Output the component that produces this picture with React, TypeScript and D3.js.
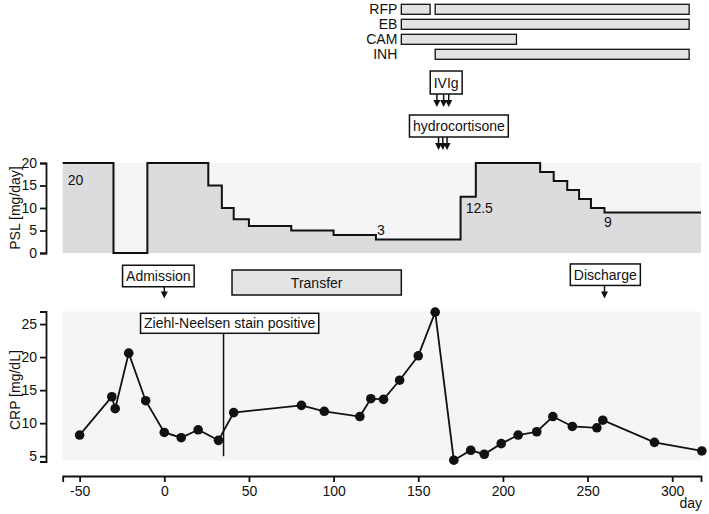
import React, { useEffect, useRef } from "react";
import * as d3 from "d3";

// ---- data ----
const drugs = ["RFP", "EB", "CAM", "INH"];
const drugSpans = [
  { drug: "RFP", start: 140, end: 157 },
  { drug: "RFP", start: 160, end: 310 },
  { drug: "EB", start: 140, end: 310 },
  { drug: "CAM", start: 140, end: 208 },
  { drug: "INH", start: 160, end: 310 },
];
const ivigDays = [161, 165, 168];
const hydroDays = [162, 164.5, 167];

const pslDays = [-60, -30, -10, 26, 34, 41, 50, 75, 100, 125, 175, 184, 222, 230, 238, 245, 252, 260, 317];
const pslDose = [20, 0, 20, 15, 10, 7.5, 6, 5, 4, 3, 12.5, 20, 18, 16, 14, 12, 10, 9, 9];
const pslLabels = [
  { day: -57, value: 16.2, text: "20", anchor: "start" },
  { day: 128, value: 5.1, text: "3", anchor: "middle" },
  { day: 178, value: 10, text: "12.5", anchor: "start" },
  { day: 262, value: 6.9, text: "9", anchor: "middle" },
];

const crpDays = [-50, -31, -29, -21, -11, 0, 10, 20, 32, 41, 81, 94.5, 115.5, 122, 129.5, 139, 150, 160, 171, 181, 189, 199, 209, 220, 229.5, 241, 255.5, 259, 289.5, 317.5];
const crpValues = [8.2, 14.0, 12.2, 20.6, 13.4, 8.6, 7.8, 9.0, 7.4, 11.6, 12.7, 11.8, 11.0, 13.7, 13.6, 16.5, 20.2, 26.8, 4.4, 5.9, 5.3, 6.9, 8.2, 8.7, 11.0, 9.5, 9.3, 10.45, 7.1, 5.8];

const dayTicks = [-50, 0, 50, 100, 150, 200, 250, 300];
const pslTicks = [0, 5, 10, 15, 20];
const crpTicks = [5, 10, 15, 20, 25];

const events = [
  { text: "Admission", boxDay: -3.5, arrowDay: 0 },
  { text: "Discharge", boxDay: 260.5, arrowDay: 260 },
];
const transfer = { text: "Transfer", start: 40, end: 140 };
const zn = { text: "Ziehl-Neelsen stain positive", boxDay: 38.6, lineDay: 35 };

const FONT = "'Liberation Sans', Arial, sans-serif";

export default function App() {
  const ref = useRef<SVGSVGElement>(null);

  useEffect(() => {
    const svg = d3.select(ref.current);
    svg.selectAll("*").remove();
    svg.attr("font-family", FONT).attr("font-size", 14);

    const x = d3.scaleLinear().domain([-60, 317]).range([62.7, 701]);
    const yPsl = d3.scaleLinear().domain([0, 20]).range([253, 163]);
    const yCrp = d3.scaleLinear().domain([4.2, 26.9]).range([461.5, 311.5]);
    const yDrug = d3
      .scaleBand()
      .domain(drugs)
      .range([1.8, 61.8])
      .paddingInner(1 / 3)
      .paddingOuter(1 / 6);

    // boxed label helper, centred at (cx, cy)
    const boxLabel = (cx: number, cy: number, text: string, h = 22) => {
      const g = svg.append("g");
      const rect = g.append("rect");
      const t = g
        .append("text")
        .attr("x", cx)
        .attr("y", cy)
        .attr("text-anchor", "middle")
        .attr("dominant-baseline", "central")
        .attr("fill", "#111")
        .text(text);
      const w = (t.node() as SVGTextElement).getComputedTextLength() + 7;
      rect
        .attr("x", cx - w / 2)
        .attr("y", cy - h / 2)
        .attr("width", w)
        .attr("height", h)
        .attr("fill", "white")
        .attr("stroke", "#111")
        .attr("stroke-width", 1.5);
      return cy + h / 2;
    };

    const arrow = (ax: number, y0: number, y1: number) => {
      svg
        .append("line")
        .attr("x1", ax)
        .attr("x2", ax)
        .attr("y1", y0)
        .attr("y2", y1 - 5)
        .attr("stroke", "#111")
        .attr("stroke-width", 1.5);
      svg
        .append("path")
        .attr("d", `M${ax - 3.5},${y1 - 7}L${ax + 3.5},${y1 - 7}L${ax},${y1}Z`)
        .attr("fill", "#111");
    };

    // ---- drug bars ----
    svg
      .append("g")
      .selectAll("rect")
      .data(drugSpans)
      .join("rect")
      .attr("x", (d) => x(d.start))
      .attr("y", (d) => yDrug(d.drug)!)
      .attr("width", (d) => x(d.end) - x(d.start))
      .attr("height", yDrug.bandwidth())
      .attr("fill", "#e3e3e3")
      .attr("stroke", "#111")
      .attr("stroke-width", 1.3);
    svg
      .append("g")
      .selectAll("text")
      .data(drugs)
      .join("text")
      .attr("x", x(140) - 4)
      .attr("y", (d) => yDrug(d)! + yDrug.bandwidth() / 2)
      .attr("text-anchor", "end")
      .attr("dominant-baseline", "central")
      .attr("fill", "#111")
      .text((d) => d);

    // ---- IVIg / hydrocortisone ----
    const ivigBottom = boxLabel(x(166.5), 82.5, "IVIg", 23);
    ivigDays.forEach((d) => arrow(x(d), ivigBottom, 107));
    const hydroBottom = boxLabel(x(174), 126, "hydrocortisone", 22);
    hydroDays.forEach((d) => arrow(x(d), hydroBottom, 150));

    // ---- PSL panel ----
    const pslData = pslDays.map((d, i) => ({ day: d, v: pslDose[i] }));
    svg
      .append("rect")
      .attr("x", x(-60))
      .attr("y", yPsl(20))
      .attr("width", x(317) - x(-60))
      .attr("height", yPsl(0) - yPsl(20))
      .attr("fill", "#f5f5f8");
    svg
      .append("path")
      .datum(pslData)
      .attr("fill", "#dcdcde")
      .attr(
        "d",
        d3
          .area<{ day: number; v: number }>()
          .curve(d3.curveStepAfter)
          .x((d) => x(d.day))
          .y0(yPsl(0))
          .y1((d) => yPsl(d.v))
      );
    svg
      .append("path")
      .datum(pslData)
      .attr("fill", "none")
      .attr("stroke", "#111")
      .attr("stroke-width", 2)
      .attr(
        "d",
        d3
          .line<{ day: number; v: number }>()
          .curve(d3.curveStepAfter)
          .x((d) => x(d.day))
          .y((d) => yPsl(d.v))
      );
    svg
      .append("g")
      .selectAll("text")
      .data(pslLabels)
      .join("text")
      .attr("x", (d) => x(d.day))
      .attr("y", (d) => yPsl(d.value))
      .attr("text-anchor", (d) => d.anchor)
      .attr("dominant-baseline", "central")
      .attr("fill", "#111")
      .text((d) => d.text);

    const styleAxis = (g: d3.Selection<SVGGElement, unknown, null, undefined>) => {
      g.attr("font-family", FONT).attr("font-size", 14);
      g.selectAll("path, line").attr("stroke", "#111").attr("stroke-width", 1.8);
      g.selectAll("text").attr("fill", "#111");
    };
    const plain = (d: d3.NumberValue) => String(d);

    svg
      .append("g")
      .attr("transform", "translate(46,0)")
      .call(d3.axisLeft(yPsl).tickValues(pslTicks).tickFormat(plain).tickSize(6).tickPadding(3))
      .call(styleAxis);
    svg
      .append("text")
      .attr("transform", `translate(15,${yPsl(10)}) rotate(-90)`)
      .attr("text-anchor", "middle")
      .attr("dominant-baseline", "central")
      .attr("fill", "#111")
      .text("PSL [mg/day]");

    // ---- events row ----
    events.forEach((e) => {
      const bottom = boxLabel(x(e.boxDay), e.text === "Admission" ? 276 : 274.7, e.text, 21.5);
      arrow(x(e.arrowDay), bottom, 298.5);
    });
    svg
      .append("rect")
      .attr("x", x(transfer.start))
      .attr("y", 270)
      .attr("width", x(transfer.end) - x(transfer.start))
      .attr("height", 25)
      .attr("fill", "#e3e3e3")
      .attr("stroke", "#111")
      .attr("stroke-width", 1.5);
    svg
      .append("text")
      .attr("x", (x(transfer.start) + x(transfer.end)) / 2)
      .attr("y", 282.5)
      .attr("text-anchor", "middle")
      .attr("dominant-baseline", "central")
      .attr("fill", "#111")
      .text(transfer.text);

    // ---- CRP panel ----
    const crpData = crpDays.map((d, i) => ({ day: d, v: crpValues[i] }));
    svg
      .append("rect")
      .attr("x", x(-60))
      .attr("y", 311.5)
      .attr("width", x(317) - x(-60))
      .attr("height", 149)
      .attr("fill", "#f5f5f8");
    svg
      .append("line")
      .attr("x1", x(zn.lineDay))
      .attr("x2", x(zn.lineDay))
      .attr("y1", 330)
      .attr("y2", yCrp(5))
      .attr("stroke", "#111")
      .attr("stroke-width", 1.5);
    svg
      .append("path")
      .datum(crpData)
      .attr("fill", "none")
      .attr("stroke", "#111")
      .attr("stroke-width", 1.8)
      .attr(
        "d",
        d3
          .line<{ day: number; v: number }>()
          .x((d) => x(d.day))
          .y((d) => yCrp(d.v))
      );
    svg
      .append("g")
      .selectAll("circle")
      .data(crpData)
      .join("circle")
      .attr("cx", (d) => x(d.day))
      .attr("cy", (d) => yCrp(d.v))
      .attr("r", 4.8)
      .attr("fill", "#111");
    boxLabel(x(zn.boxDay), 323.3, zn.text, 20);

    svg
      .append("g")
      .attr("transform", "translate(46,0)")
      .call(d3.axisLeft(yCrp).tickValues(crpTicks).tickFormat(plain).tickSize(6).tickPadding(3))
      .call(styleAxis);
    svg
      .append("text")
      .attr("transform", `translate(15,${yCrp(15)}) rotate(-90)`)
      .attr("text-anchor", "middle")
      .attr("dominant-baseline", "central")
      .attr("fill", "#111")
      .text("CRP [mg/dL]");

    // ---- day axis ----
    svg
      .append("g")
      .attr("transform", "translate(0,476)")
      .call(d3.axisBottom(x).tickValues(dayTicks).tickFormat(plain).tickSize(6).tickPadding(4))
      .call(styleAxis);
    svg
      .append("text")
      .attr("x", 702)
      .attr("y", 503)
      .attr("text-anchor", "end")
      .attr("dominant-baseline", "central")
      .attr("fill", "#111")
      .text("day");
  }, []);

  return (
    <svg
      ref={ref}
      width={709}
      height={514}
      style={{ position: "absolute", left: 0, top: 0, background: "white" }}
    />
  );
}
